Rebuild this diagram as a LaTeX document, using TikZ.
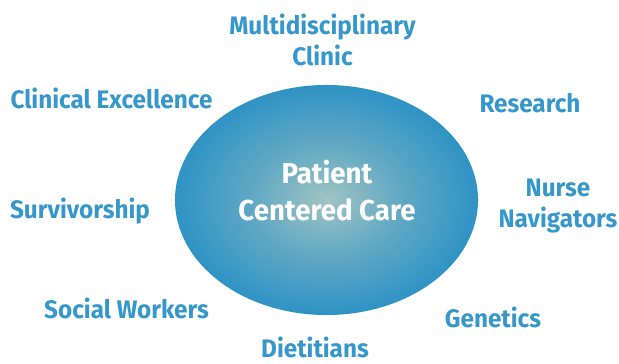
\documentclass[tikz,border=0pt]{standalone}
\usepackage{fontspec}
\setmainfont[FakeStretch=0.96]{Fira Sans}
\usepackage{tikz}
\usetikzlibrary{shapes.geometric}
\definecolor{hubin}{HTML}{A0C4C2}
\definecolor{hubout}{HTML}{2F93C5}
\definecolor{lblblue}{HTML}{3597CA}
\pgfdeclareradialshading{hubglow}{\pgfpoint{0bp}{0bp}}{color(0bp)=(hubin); color(12bp)=(hubin!45!hubout); color(25bp)=(hubout); color(50bp)=(hubout)}
\tikzset{
  hub/.style={ellipse, shading=hubglow, draw=none, inner sep=0pt, minimum width=7.575cm, minimum height=5.75cm},
  hubtxt/.style={font=\bfseries\fontsize{20.5}{26.2}\selectfont, text=white, align=center, inner sep=0pt, anchor=base},
  lbl/.style={font=\bfseries\fontsize{18}{21.4}\selectfont, text=lblblue, align=center, inner sep=0pt, anchor=base},
}

\begin{document}
\begin{tikzpicture}[x=0.025cm, y=-0.025cm]
        \useasboundingbox (0,0) rectangle (619,363);
        \node[hub] (care) at (326.5,200) {};
        \node[hubtxt] (caretxt) at (327,220) {Patient\\Centered Care};
        \node[lbl] (clinic) at (322.5,65) {Multidisciplinary\\Clinic};
        \node[lbl] (research) at (530,112) {Research};
        \node[lbl] (navig) at (558,227) {Nurse\\Navigators};
        \node[lbl] (genet) at (493,327) {Genetics};
        \node[lbl] (diet) at (315,357.5) {Dietitians};
        \node[lbl] (social) at (126.5,318) {Social Workers};
        \node[lbl] (surviv) at (80,218) {Survivorship};
        \node[lbl] (excel) at (111.5,108) {Clinical Excellence};
      \end{tikzpicture}
\end{document}
